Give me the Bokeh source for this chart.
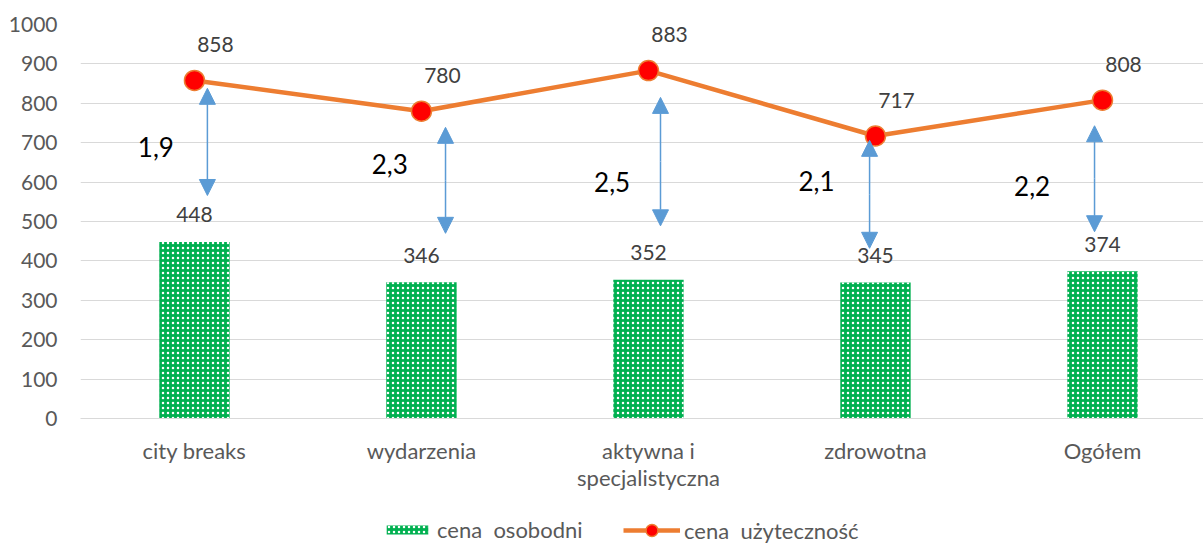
from bokeh.plotting import figure
from bokeh.layouts import column
from bokeh.models import Range1d, FixedTicker, Legend, LegendItem, ColumnDataSource, Arrow, NormalHead
from bokeh.core.properties import value
from bokeh.embed import file_html
from bokeh.resources import INLINE

categories = ["city breaks", "wydarzenia", "aktywna i\nspecjalistyczna", "zdrowotna", "Ogółem"]
cena_osobodni = [448, 346, 352, 345, 374]
cena_uzytecznosc = [858, 780, 883, 717, 808]
ratio_labels = ["1,9", "2,3", "2,5", "2,1", "2,2"]
y_ticks = [0, 100, 200, 300, 400, 500, 600, 700, 800, 900, 1000]

# annotation arrows (as placed in the original chart)
arrow_x = [0.057, 1.106, 2.053, 2.974, 3.965]
arrow_top = [838, 739, 815, 706, 743]
arrow_bottom = [566, 470, 489, 432, 474]
ratio_x = [-0.17, 0.86, 1.84, 2.74, 3.69]
ratio_y = [688, 645, 601, 604, 591]

FONT = "Lato"
GREEN = "#00B050"
ORANGE = "#ED7D31"
xs = list(range(len(categories)))

p = figure(width=1203, height=500, output_backend="svg", toolbar_location=None,
           x_range=Range1d(-0.502, 4.445), y_range=Range1d(0, 1000),
           min_border_left=80, min_border_right=0, min_border_top=24, min_border_bottom=82)
p.outline_line_color = None
p.background_fill_color = "white"
p.border_fill_color = "white"

p.xgrid.grid_line_color = None
p.ygrid.grid_line_color = "#D9D9D9"
p.ygrid.grid_line_width = 1

p.yaxis.ticker = FixedTicker(ticks=y_ticks)
p.yaxis.axis_line_color = None
p.yaxis.major_tick_line_color = None
p.yaxis.minor_tick_line_color = None
p.yaxis.major_tick_out = 0
p.yaxis.major_tick_in = 0
p.yaxis.minor_tick_out = 0
p.yaxis.major_label_standoff = 23
p.yaxis.major_label_text_font = FONT
p.yaxis.major_label_text_font_size = "21px"
p.yaxis.major_label_text_color = "#595959"

p.xaxis.ticker = FixedTicker(ticks=xs)
p.xaxis.major_label_overrides = {i: c for i, c in enumerate(categories)}
p.xaxis.axis_line_color = "#D9D9D9"
p.xaxis.major_tick_line_color = None
p.xaxis.minor_tick_line_color = None
p.xaxis.major_tick_out = 0
p.xaxis.major_tick_in = 0
p.xaxis.minor_tick_out = 0
p.xaxis.major_label_standoff = 18
p.xaxis.major_label_text_font = FONT
p.xaxis.major_label_text_font_size = "22px"
p.xaxis.major_label_text_color = "#595959"
p.xaxis.major_label_text_line_height = 1.02

src = ColumnDataSource(dict(x=xs, bar=cena_osobodni, line=cena_uzytecznosc,
                            bar_lbl=[str(v) for v in cena_osobodni],
                            line_lbl=[str(v) for v in cena_uzytecznosc]))

HATCH = dict(fill_color=GREEN, line_color=None, hatch_pattern=".", hatch_color="white",
             hatch_scale=5, hatch_weight=1.0)
MARK = dict(fill_color="#FF0000", line_color=ORANGE, line_width=1.5)

p.vbar(x="x", top="bar", width=0.31, source=src, **HATCH)
p.line(x="x", y="line", source=src, line_color=ORANGE, line_width=4.5)
p.scatter(x="x", y="line", source=src, size=20, **MARK)

p.text(x="x", y="bar", text="bar_lbl", source=src, y_offset=-27, text_align="center",
       text_baseline="middle", text_font=value(FONT), text_font_size="21px", text_color="#404040")
p.text(x="x", y="line", text="line_lbl", source=src, x_offset=21, y_offset=-36, text_align="center",
       text_baseline="middle", text_font=value(FONT), text_font_size="21px", text_color="#404040")

for ax, at, ab in zip(arrow_x, arrow_top, arrow_bottom):
    mid = (at + ab) / 2
    for end in (at, ab):
        p.add_layout(Arrow(x_start=ax, y_start=mid, x_end=ax, y_end=end,
                           line_color="#5B9BD5", line_width=1.5,
                           end=NormalHead(size=16, fill_color="#5B9BD5", line_color="#5B9BD5")))

p.text(x=ratio_x, y=ratio_y, text=ratio_labels, text_align="center", text_baseline="middle",
       text_font=value(FONT), text_font_size="26px", text_color="#000000")

# legend strip below the chart (proxy glyphs lie outside its visible range)
lf = figure(width=1203, height=43, output_backend="svg", toolbar_location=None,
            x_range=Range1d(0, 1), y_range=Range1d(0, 1),
            x_axis_location=None, y_axis_location=None,
            min_border_left=0, min_border_right=0, min_border_top=0, min_border_bottom=0)
lf.grid.visible = False
lf.outline_line_color = None
lf.border_fill_color = "white"
lb = lf.vbar(x=[5], top=[1], width=0.1, **HATCH)
ll = lf.line(x=[5, 6], y=[1, 1], line_color=ORANGE, line_width=4.5)
lm = lf.scatter(x=[5], y=[1], size=20, **MARK)

LEG = dict(orientation="horizontal", padding=0, margin=0, label_standoff=4,
           label_text_font=FONT, label_text_font_size="22px", label_text_color="#595959",
           border_line_color=None, background_fill_alpha=0)
leg1 = Legend(items=[LegendItem(label="cena  osobodni", renderers=[lb])],
              location=(301, 0), glyph_width=52, glyph_height=11, **LEG)
leg2 = Legend(items=[LegendItem(label="cena  użyteczność", renderers=[ll, lm])],
              location=(543, -2), glyph_width=57, glyph_height=30, **LEG)
lf.add_layout(leg1, "center")
lf.add_layout(leg2, "center")

open("out.html", "w").write(file_html(column(p, lf, spacing=0), INLINE))
